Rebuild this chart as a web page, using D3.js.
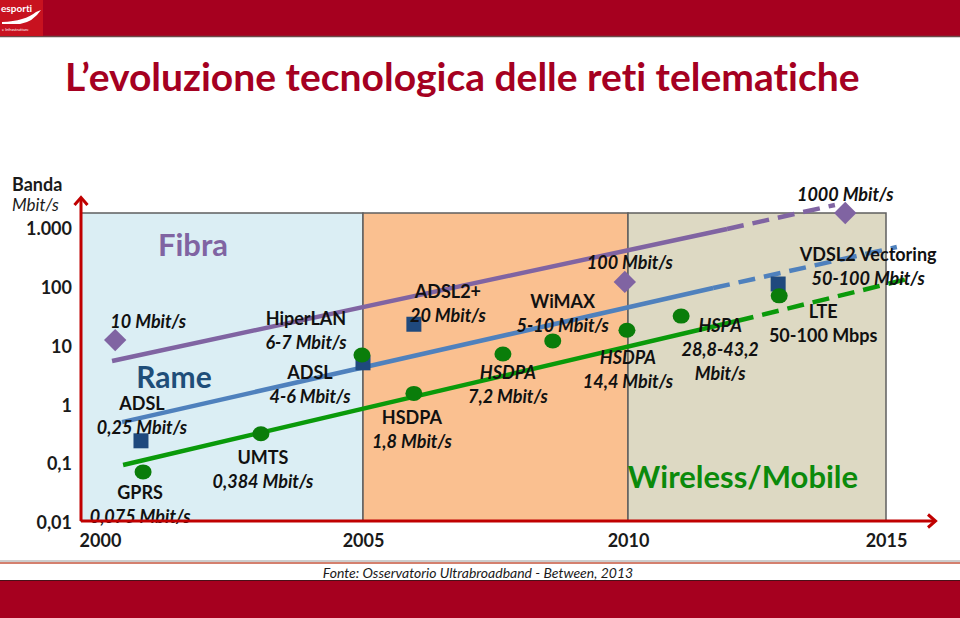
<!DOCTYPE html>
<html><head><meta charset="utf-8">
<script src="https://cdn.jsdelivr.net/npm/d3@7"></script>
<style>
body{margin:0;background:#fff}
svg{display:block}
text{font-family:Lato,"Open Sans","DejaVu Sans",sans-serif;font-variant-ligatures:none;font-feature-settings:"liga" 0}
</style>
</head><body>
<svg id="chart" width="960" height="618"></svg>
<script>
// ---------------- DATA ----------------
const yTickValues = [0.01, 0.1, 1, 10, 100, 1000];
const yTickLabels = ["0,01", "0,1", "1", "10", "100", "1.000"];
const xTickValues = [2000, 2005, 2010, 2015];

const periodStarts = [1999.64, 2005, 2010];
const periodEnds   = [2005, 2010, 2015];

// Fibra (purple diamonds)
const fibraYears  = [2000.29, 2009.94, 2014.21];
const fibraValues = [12.9, 126, 1870];
const fibraLabels = [["10 Mbit/s"], ["100 Mbit/s"], ["1000 Mbit/s"]];

// Rame (blue squares)
const rameYears  = [2000.78, 2005.0, 2005.96, 2012.91];
const rameValues = [0.25, 5.3, 24, 116];
const rameLabels = [["ADSL", "0,25 Mbit/s"], ["ADSL", "4-6 Mbit/s"], ["ADSL2+", "20 Mbit/s"], ["VDSL2 Vectoring", "50-100 Mbit/s"]];

// Wireless/Mobile (green circles)
const mobileYears  = [2000.82, 2003.06, 2004.98, 2005.96, 2007.64, 2008.58, 2009.98, 2011.03, 2012.93];
const mobileValues = [0.074, 0.33, 7.2, 1.6, 7.5, 12.5, 19, 33, 73];
const mobileLabels = [["GPRS", "0,075 Mbit/s"], ["UMTS", "0,384 Mbit/s"], ["HiperLAN", "6-7 Mbit/s"], ["HSDPA", "1,8 Mbit/s"], ["HSDPA", "7,2 Mbit/s"], ["WiMAX", "5-10 Mbit/s"], ["HSDPA", "14,4 Mbit/s"], ["HSPA", "28,8-43,2", "Mbit/s"], ["LTE", "50-100 Mbps"]];

// Trend lines: [start, end of solid part, end of dashed projection]
const fibraTrendYears   = [2000.23, 2011.92, 2014.01];
const fibraTrendValues  = [5.7, 1000, 2560];
const rameTrendYears    = [2000.42, 2011.65, 2015.21];
const rameTrendValues   = [0.52, 99, 494];
const mobileTrendYears  = [2000.44, 2012.11, 2015.50];
const mobileTrendValues = [0.097, 27.2, 147];

const regionNames = ["Fibra", "Rame", "Wireless/Mobile"];
const titleText = "L\u2019evoluzione tecnologica delle reti telematiche";
const sourceText = "Fonte: Osservatorio Ultrabroadband - Between, 2013";

// ---------------- LAYOUT / STYLE ----------------
const svg = d3.select("#chart");
const plotTop = 213, plotBottom = 521;
const x = d3.scaleLinear()
  .domain([periodStarts[0], periodStarts[1], periodStarts[2], periodEnds[2]])
  .range([81, 363, 628, 886]);
const y = d3.scaleLog().domain([0.01, 1000]).range([523, 229]);

const C = {
  header: "#a6001f", logo: "#c8121f", title: "#a50021", axis: "#c00000",
  purple: "#8064a2", blueLine: "#4f81bd", blueMark: "#1f497d", rame: "#1f4e79",
  green: "#0a9a0a", greenMark: "#0a7d0a", wireless: "#0b8a0b",
  fills: ["#dbeef4", "#fac090", "#ddd9c3"]
};

// header
svg.append("rect").attr("x", 0).attr("y", 0).attr("width", 960).attr("height", 36).attr("fill", C.header);
svg.append("line").attr("x1", 0).attr("x2", 960).attr("y1", 36.5).attr("y2", 36.5).attr("stroke", "#6b4a4a").attr("stroke-width", 1.5);
svg.append("rect").attr("x", 0).attr("y", 0).attr("width", 43).attr("height", 36).attr("fill", C.logo);
svg.append("text").attr("x", 1).attr("y", 12).attr("fill", "#fff").attr("font-size", 10).attr("font-weight", 700).text("esporti");
svg.append("path").attr("d", "M2,22 Q25,21 36,12 L41,10 Q33,22 20,24 L2,24 Z").attr("fill", "#fff");
svg.append("text").attr("x", 2).attr("y", 30.5).attr("fill", "#fff").attr("font-size", 4).text("e Infrastrutture");

// title
svg.append("text").attr("x", 65).attr("y", 91).attr("fill", C.title)
  .attr("font-size", 39).attr("font-weight", 700).text(titleText);

// period boxes
svg.append("g").selectAll("rect").data(periodStarts).join("rect")
  .attr("x", d => x(d)).attr("y", plotTop)
  .attr("width", (d, i) => x(periodEnds[i]) - x(d)).attr("height", plotBottom - plotTop)
  .attr("fill", (d, i) => C.fills[i]).attr("stroke", "#5f5f5f").attr("stroke-width", 1.5);

// axes labels via d3 axes
const yAxis = svg.append("g").attr("transform", "translate(81,0)")
  .call(d3.axisLeft(y).tickValues(yTickValues).tickFormat((d, i) => yTickLabels[i]).tickSize(0).tickPadding(9));
yAxis.select(".domain").remove();
yAxis.selectAll("text").attr("font-family", "Lato").attr("font-size", 18).attr("font-weight", 700).attr("fill", "#1a1a1a");

const xAxis = svg.append("g").attr("transform", `translate(0,${plotBottom})`)
  .call(d3.axisBottom(x).tickValues(xTickValues).tickFormat(d => d).tickSize(0).tickPadding(13));
xAxis.select(".domain").remove();
xAxis.selectAll("text").attr("font-family", "Lato").attr("font-size", 18).attr("font-weight", 700).attr("fill", "#1a1a1a");

svg.append("text").attr("x", 12).attr("y", 191).attr("font-size", 18).attr("font-weight", 700).attr("fill", "#1a1a1a").text("Banda");
svg.append("text").attr("x", 12).attr("y", 211).attr("font-size", 17).attr("font-style", "italic").attr("fill", "#1a1a1a").text("Mbit/s");

// trend lines
function trend(years, values, color) {
  const pts = years.map((d, i) => [x(d), y(values[i])]);
  const line = d3.line();
  svg.append("path").attr("d", line(pts.slice(0, 2))).attr("stroke", color).attr("stroke-width", 4.5).attr("fill", "none");
  svg.append("path").attr("d", line(pts.slice(1, 3))).attr("stroke", color).attr("stroke-width", 4.5).attr("fill", "none")
    .attr("stroke-dasharray", "17,9");
}
trend(fibraTrendYears, fibraTrendValues, C.purple);
trend(rameTrendYears, rameTrendValues, C.blueLine);
trend(mobileTrendYears, mobileTrendValues, C.green);

// markers
svg.append("g").selectAll("path").data(fibraYears).join("path")
  .attr("d", d3.symbol(d3.symbolSquare, 250))
  .attr("transform", (d, i) => `translate(${x(d)},${y(fibraValues[i])}) rotate(45)`)
  .attr("fill", C.purple);
svg.append("g").selectAll("path").data(rameYears).join("path")
  .attr("d", d3.symbol(d3.symbolSquare, 225))
  .attr("transform", (d, i) => `translate(${x(d)},${y(rameValues[i])})`)
  .attr("fill", C.blueMark);
svg.append("g").selectAll("ellipse").data(mobileYears).join("ellipse")
  .attr("cx", d => x(d)).attr("cy", (d, i) => y(mobileValues[i]))
  .attr("rx", 8.5).attr("ry", 7.5).attr("fill", C.greenMark);

// point labels (offsets from marker, italic flags per line)
const fibraLayout = [{dx: 33, dy: -19, it: [1]}, {dx: 5, dy: -19, it: [1]}, {dx: 0, dy: -18, it: [1]}];
const rameLayout = [{dx: 1, dy: -37, it: [0, 1]}, {dx: -53, dy: 10, it: [0, 1]}, {dx: 34, dy: -33, it: [0, 1]}, {dx: 90, dy: -29, it: [0, 1]}];
const mobileLayout = [
  {dx: -3, dy: 21, it: [0, 1]}, {dx: 2, dy: 24, it: [0, 1]}, {dx: -56, dy: -36, it: [0, 1]},
  {dx: -2, dy: 24, it: [0, 1]}, {dx: 5, dy: 19, it: [1, 1]}, {dx: 10, dy: -39, it: [0, 1]},
  {dx: 1, dy: 27, it: [1, 1]}, {dx: 39, dy: 9, it: [1, 1, 1]}, {dx: 44, dy: 16, it: [0, 0]}
];
function labels(years, values, lbls, layout) {
  const g = svg.append("g");
  lbls.forEach((lines, i) => {
    const L = layout[i];
    const cx = x(years[i]) + L.dx, cy = y(values[i]) + L.dy;
    lines.forEach((t, j) => {
      g.append("text").attr("x", cx).attr("y", cy + j * 24).attr("dy", "0.36em")
        .attr("text-anchor", "middle").attr("font-size", 18).attr("font-weight", 700)
        .attr("font-style", L.it[j] ? "italic" : "normal").attr("fill", "#111").text(t);
    });
  });
}
labels(fibraYears, fibraValues, fibraLabels, fibraLayout);
labels(rameYears, rameValues, rameLabels, rameLayout);
labels(mobileYears, mobileValues, mobileLabels, mobileLayout);

// region names
const regionPos = [[193, 245, C.purple, 31], [174, 377, C.rame, 30], [743, 477, C.wireless, 31]];
regionNames.forEach((n, i) => {
  const p = regionPos[i];
  svg.append("text").attr("x", p[0]).attr("y", p[1]).attr("dy", "0.36em").attr("text-anchor", "middle")
    .attr("font-size", p[3]).attr("font-weight", 700).attr("fill", p[2]).text(n);
});

// red axes with arrows
const ax = svg.append("g").attr("stroke", C.axis).attr("stroke-width", 3).attr("fill", "none");
ax.append("line").attr("x1", 81).attr("y1", plotBottom).attr("x2", 81).attr("y2", 198);
ax.append("path").attr("d", "M74.5,205 L81,197.5 L87.5,205");
ax.append("line").attr("x1", 81).attr("y1", plotBottom).attr("x2", 935).attr("y2", plotBottom);
ax.append("path").attr("d", "M928,514.5 L935.5,521 L928,527.5");

// footer
svg.append("line").attr("x1", 0).attr("x2", 960).attr("y1", 561).attr("y2", 561).attr("stroke", "#9a9a9a").attr("stroke-width", 1);
svg.append("line").attr("x1", 0).attr("x2", 960).attr("y1", 563).attr("y2", 563).attr("stroke", "#d4806e").attr("stroke-width", 2);
svg.append("text").attr("x", 478).attr("y", 573).attr("dy", "0.36em").attr("text-anchor", "middle")
  .attr("font-size", 14).attr("font-style", "italic").attr("fill", "#1a1a1a").text(sourceText);
svg.append("rect").attr("x", 0).attr("y", 580).attr("width", 960).attr("height", 38).attr("fill", C.header);
svg.append("line").attr("x1", 0).attr("x2", 960).attr("y1", 580.5).attr("y2", 580.5).attr("stroke", "#4a1018").attr("stroke-width", 1);
</script>
</body></html>
